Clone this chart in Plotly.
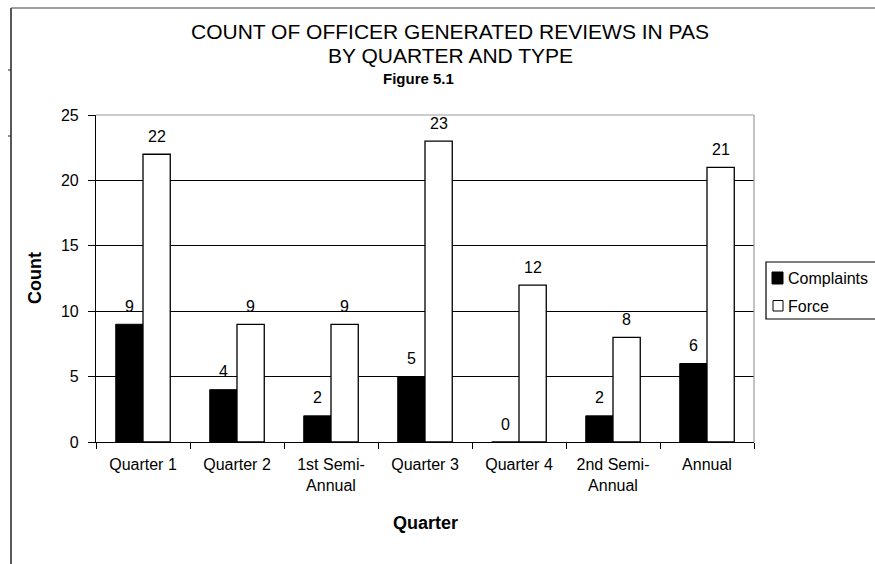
import plotly.graph_objects as go

# ---- data ----
categories = ["Quarter 1", "Quarter 2", "1st Semi-<br>Annual", "Quarter 3",
              "Quarter 4", "2nd Semi-<br>Annual", "Annual"]
complaints = [9, 4, 2, 5, 0, 2, 6]
force = [22, 9, 9, 23, 12, 8, 21]
series_names = ["Complaints", "Force"]
title_lines = ["COUNT OF OFFICER GENERATED REVIEWS IN PAS", "BY QUARTER AND TYPE"]
subtitle = "Figure 5.1"
x_title = "Quarter"
y_title = "Count"
y_ticks = [0, 5, 10, 15, 20, 25]

FONT = "Liberation Sans, Arial, sans-serif"
W, H = 875, 564
L, R, T, B = 96, 121, 115, 122
PW, PH = W - L - R, H - T - B


def px(xp):
    return (xp - L) / PW


def py(yp):
    return (H - B - yp) / PH


fig = go.Figure()
fig.add_trace(go.Bar(x=categories, y=complaints, name=series_names[0],
                     marker=dict(color="black", line=dict(color="black", width=1))))
fig.add_trace(go.Bar(x=categories, y=force, name=series_names[1],
                     marker=dict(color="white", line=dict(color="black", width=1.3))))

annotations = []
for vals, shift in ((complaints, -13.5), (force, 13.5)):
    for c, v in zip(categories, vals):
        annotations.append(dict(x=c, y=v, xref="x", yref="y", text=str(v), showarrow=False,
                                xshift=shift, yshift=18, yanchor="middle",
                                font=dict(family=FONT, size=16, color="black")))

# titles
annotations.append(dict(x=px(450), y=py(32), xref="paper", yref="paper", text=title_lines[0],
                        showarrow=False, xanchor="center", yanchor="middle",
                        font=dict(family=FONT, size=21, color="black")))
annotations.append(dict(x=px(450), y=py(56), xref="paper", yref="paper", text=title_lines[1],
                        showarrow=False, xanchor="center", yanchor="middle",
                        font=dict(family=FONT, size=21, color="black")))
annotations.append(dict(x=px(418), y=py(78), xref="paper", yref="paper", text="<b>%s</b>" % subtitle,
                        showarrow=False, xanchor="center", yanchor="middle",
                        font=dict(family=FONT, size=15, color="black")))
# axis titles
annotations.append(dict(x=px(425), y=py(523), xref="paper", yref="paper", text="<b>%s</b>" % x_title,
                        showarrow=False, xanchor="center", yanchor="middle",
                        font=dict(family=FONT, size=18, color="black")))
annotations.append(dict(x=px(35), y=py(278), xref="paper", yref="paper", text="<b>%s</b>" % y_title,
                        showarrow=False, xanchor="center", yanchor="middle", textangle=-90,
                        font=dict(family=FONT, size=18, color="black")))
# custom legend text
annotations.append(dict(x=px(786), y=py(278), xref="paper", yref="paper", text=series_names[0],
                        showarrow=False, xanchor="left", yanchor="middle",
                        font=dict(family=FONT, size=16, color="black")))
annotations.append(dict(x=px(786), y=py(306), xref="paper", yref="paper", text=series_names[1],
                        showarrow=False, xanchor="left", yanchor="middle",
                        font=dict(family=FONT, size=16, color="black")))

shapes = [
    # plot area top/right border (gray)
    dict(type="line", xref="paper", yref="paper", x0=0, x1=1, y0=1, y1=1,
         line=dict(color="#9a9a9a", width=1.2), layer="above"),
    dict(type="line", xref="paper", yref="paper", x0=1, x1=1, y0=0, y1=1,
         line=dict(color="#9a9a9a", width=1.2), layer="above"),
    # outer frame
    dict(type="line", xref="paper", yref="paper", x0=px(11), x1=px(11), y0=py(8), y1=py(570),
         line=dict(color="#222", width=1.5)),
    dict(type="line", xref="paper", yref="paper", x0=px(11), x1=px(880), y0=py(8), y1=py(8),
         line=dict(color="#444", width=1.2)),
    dict(type="line", xref="paper", yref="paper", x0=px(8), x1=px(11), y0=py(70), y1=py(70),
         line=dict(color="#222", width=1)),
    dict(type="line", xref="paper", yref="paper", x0=px(8), x1=px(11), y0=py(136), y1=py(136),
         line=dict(color="#222", width=1)),
    # legend box and swatches
    dict(type="rect", xref="paper", yref="paper", x0=px(766), x1=px(885), y0=py(262), y1=py(319),
         line=dict(color="black", width=1.2), fillcolor="white"),
    dict(type="rect", xref="paper", yref="paper", x0=px(772), x1=px(783), y0=py(272), y1=py(284),
         line=dict(color="black", width=1), fillcolor="black"),
    dict(type="rect", xref="paper", yref="paper", x0=px(773), x1=px(783), y0=py(300.5), y1=py(311),
         line=dict(color="black", width=1), fillcolor="white"),
]

fig.update_layout(
    width=W, height=H,
    margin=dict(l=L, r=R, t=T, b=B, pad=0),
    paper_bgcolor="white", plot_bgcolor="white",
    barmode="group", bargap=0.42, bargroupgap=0,
    showlegend=False,
    font=dict(family=FONT, size=16, color="black"),
    annotations=annotations,
    shapes=shapes,
)
fig.update_xaxes(type="category", tickson="boundaries", ticks="outside", ticklen=6,
                 tickcolor="black", tickwidth=1, showline=True, linecolor="black", linewidth=1.2,
                 showgrid=False, ticklabelstandoff=8,
                 tickfont=dict(family=FONT, size=16, color="black"))
fig.update_yaxes(range=[0, 25], tickvals=y_ticks, ticks="outside", ticklen=7, tickcolor="black",
                 showline=True, linecolor="black", linewidth=1.2, showgrid=True,
                 gridcolor="black", gridwidth=1, zeroline=False, ticklabelstandoff=6,
                 tickfont=dict(family=FONT, size=16, color="black"))

fig.write_html("out.html", config={"displayModeBar": False},
               post_script="document.body.style.margin='0';document.body.style.overflow='hidden';")
